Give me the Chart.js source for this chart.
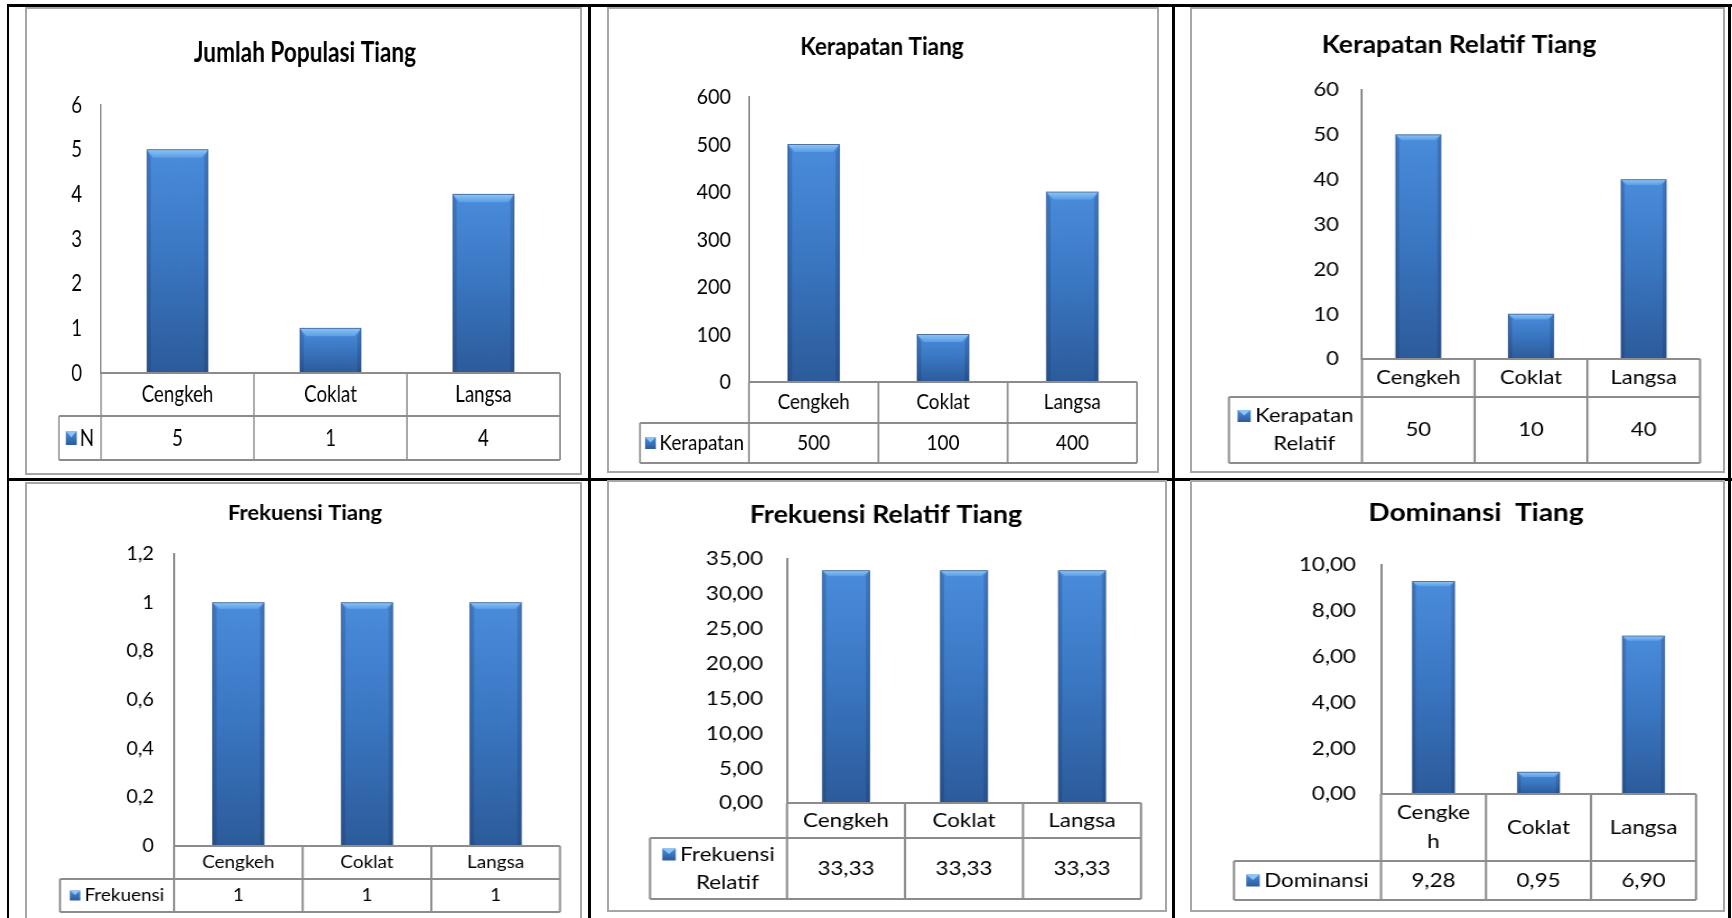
<!DOCTYPE html>
<html lang="id">
<head>
<meta charset="utf-8">
<title>Grafik Tiang</title>
<script src="https://cdn.jsdelivr.net/npm/chart.js@4.4.1/dist/chart.umd.min.js"></script>
<style>
    html, body { margin: 0; padding: 0; background: #fff; }
    body { position: relative; width: 1732px; height: 918px; overflow: hidden; }
    .garis { position: absolute; background: #000; }
    .bingkai { position: absolute; border: 2px solid #a6a6a6; box-sizing: border-box; }
    canvas { position: absolute; transform-origin: 0 0; }
</style>
</head>
<body>
<div class="garis" style="left:7px;top:4px;width:1725px;height:3px"></div>
<div class="garis" style="left:7px;top:4px;width:2px;height:914px"></div>
<div class="garis" style="left:588px;top:4px;width:3px;height:914px"></div>
<div class="garis" style="left:1172px;top:4px;width:3px;height:914px"></div>
<div class="garis" style="left:1728px;top:4px;width:3px;height:914px"></div>
<div class="garis" style="left:7px;top:478px;width:1725px;height:3px"></div>
<script>
// data
const kategori = ['Cengkeh', 'Coklat', 'Langsa'];
const kategoriDominansi = [['Cengke', 'h'], 'Coklat', 'Langsa'];

const jumlahPopulasi = [5, 1, 4];
const kerapatan = [500, 100, 400];
const kerapatanRelatif = [50, 10, 40];
const frekuensi = [1, 1, 1];
const frekuensiRelatif = [33.33, 33.33, 33.33];
const dominansi = [9.28, 0.95, 6.90];

// tick sumbu Y
const tickPopulasi = [0, 1, 2, 3, 4, 5, 6];
const tickKerapatan = [0, 100, 200, 300, 400, 500, 600];
const tickKerapatanRelatif = [0, 10, 20, 30, 40, 50, 60];
const tickFrekuensi = [0, 0.2, 0.4, 0.6, 0.8, 1, 1.2];
const tickFrekuensiRelatif = [0, 5, 10, 15, 20, 25, 30, 35];
const tickDominansi = [0, 2, 4, 6, 8, 10];

function angkaUmum(v) {
    return String(Math.round(v * 100) / 100).replace('.', ',');
}
function angka2(v) {
    return v.toFixed(2).replace('.', ',');
}

function warnaBatang(c) {
    const chart = c.chart, a = chart.chartArea;
    if (!a || c.raw == null) return '#3b78c4';
    const yAtas = chart.scales.y.getPixelForValue(c.raw);
    const g = chart.ctx.createLinearGradient(0, yAtas, 0, a.bottom);
    g.addColorStop(0, '#4a8cdb');
    g.addColorStop(0.45, '#3b78c4');
    g.addColorStop(1, '#2c5b9a');
    return g;
}

// efek bevel di batang
const bevel = {
    id: 'bevel',
    afterDatasetsDraw(chart) {
        const ctx = chart.ctx;
        chart.getDatasetMeta(0).data.forEach(function (el) {
            const p = el.getProps(['x', 'y', 'width', 'base'], true);
            const l = p.x - p.width / 2, r = p.x + p.width / 2;
            const b = Math.min(8, p.width * 0.13, (p.base - p.y) / 2);
            ctx.save();
            let g = ctx.createLinearGradient(0, p.y, 0, p.y + b);
            g.addColorStop(0, '#8cc4f5');
            g.addColorStop(1, '#5a9ee6');
            ctx.fillStyle = g;
            ctx.beginPath();
            ctx.moveTo(l, p.y); ctx.lineTo(r, p.y); ctx.lineTo(r - b, p.y + b); ctx.lineTo(l + b, p.y + b);
            ctx.closePath(); ctx.fill();
            ctx.fillStyle = 'rgba(20,45,90,0.22)';
            ctx.beginPath();
            ctx.moveTo(l, p.y); ctx.lineTo(l + b * 0.6, p.y + b); ctx.lineTo(l + b * 0.6, p.base); ctx.lineTo(l, p.base);
            ctx.closePath(); ctx.fill();
            ctx.beginPath();
            ctx.moveTo(r, p.y); ctx.lineTo(r - b * 0.6, p.y + b); ctx.lineTo(r - b * 0.6, p.base); ctx.lineTo(r, p.base);
            ctx.closePath(); ctx.fill();
            ctx.strokeStyle = 'rgba(30,60,110,0.6)';
            ctx.lineWidth = 1;
            ctx.strokeRect(l, p.y, p.width, p.base - p.y);
            ctx.restore();
        });
    }
};

function gambarPenanda(ctx, x, y, m) {
    const g = ctx.createLinearGradient(0, y, 0, y + m);
    g.addColorStop(0, '#4a8cdb');
    g.addColorStop(1, '#2c5b9a');
    ctx.fillStyle = g;
    ctx.fillRect(x, y, m, m);
    ctx.fillStyle = '#8cc4f5';
    ctx.beginPath();
    ctx.moveTo(x, y); ctx.lineTo(x + m, y); ctx.lineTo(x + m / 2, y + m * 0.45);
    ctx.closePath(); ctx.fill();
}

// judul + tabel data di bawah grafik
const tabelData = {
    id: 'tabelData',
    afterDraw(chart, args, o) {
        const ctx = chart.ctx, a = chart.chartArea;
        const n = chart.data.labels.length;
        const kol = (a.right - a.left) / n;
        const y0 = a.bottom, y1 = o.baris1, y2 = o.baris2;
        ctx.save();
        ctx.fillStyle = '#000';
        ctx.textAlign = 'center';
        ctx.textBaseline = 'middle';
        ctx.font = 'bold ' + o.fJudul + 'px Lato';
        ctx.fillText(o.judul, o.judulX, o.judulY);

        ctx.strokeStyle = '#8c8c8c';
        ctx.lineWidth = 2;
        ctx.beginPath();
        ctx.moveTo(a.left, y0); ctx.lineTo(a.right, y0);
        ctx.moveTo(o.legKiri, y1); ctx.lineTo(a.right, y1);
        ctx.moveTo(o.legKiri, y2); ctx.lineTo(a.right, y2);
        for (let i = 0; i <= n; i++) {
            const xx = a.left + i * kol;
            ctx.moveTo(xx, y0); ctx.lineTo(xx, y2);
        }
        ctx.moveTo(o.legKiri, y1); ctx.lineTo(o.legKiri, y2);
        ctx.stroke();

        ctx.font = o.fTabel + 'px Lato';
        const tinggi = o.fTabel * 1.45;
        chart.data.labels.forEach(function (lab, i) {
            const cx = chart.scales.x.getPixelForValue(i);
            const baris = [].concat(lab);
            baris.forEach(function (t, j) {
                ctx.fillText(t, cx, (y0 + y1) / 2 + (j - (baris.length - 1) / 2) * tinggi);
            });
            ctx.fillText(o.format(chart.data.datasets[0].data[i]), cx, (y1 + y2) / 2);
        });

        // legenda
        const baris = o.legenda;
        const m = Math.round(o.fTabel * 0.58);
        const w0 = ctx.measureText(baris[0]).width;
        const jarak = 4;
        const xMulai = (o.legKiri + a.left) / 2 - (m + jarak + w0) / 2;
        baris.forEach(function (t, j) {
            const yy = (y1 + y2) / 2 + (j - (baris.length - 1) / 2) * o.fTabel * 1.4;
            if (j === 0) {
                gambarPenanda(ctx, xMulai, yy - m / 2, m);
                ctx.fillStyle = '#000';
                ctx.textAlign = 'left';
                ctx.fillText(t, xMulai + m + jarak, yy);
            } else {
                ctx.textAlign = 'center';
                ctx.fillText(t, xMulai + m + jarak + w0 / 2, yy);
            }
        });
        ctx.restore();
    }
};

const panel = [
    { x: 25, y: 7, w: 557, h: 468, sx: 0.78, judul: 'Jumlah Populasi Tiang', fJudul: 29, judulX: 280, judulY: 46,
      sumbu: 76, pad: 19, atas: 98, nol: 366, baris1: 409, baris2: 453, legKiri: 34, kanan: 535, fTick: 24, fTabel: 24,
      kategori: kategori, nilai: jumlahPopulasi, tick: tickPopulasi, seri: 'N', legenda: ['N'], fmtTick: angkaUmum, fmt: angkaUmum },
    { x: 607, y: 7, w: 552, h: 466, sx: 0.9, judul: 'Kerapatan Tiang', fJudul: 25, judulX: 275, judulY: 40,
      sumbu: 142, pad: 18, atas: 90, nol: 375, baris1: 416, baris2: 456, legKiri: 33, kanan: 530, fTick: 22, fTabel: 21,
      kategori: kategori, nilai: kerapatan, tick: tickKerapatan, seri: 'Kerapatan', legenda: ['Kerapatan'], fmtTick: angkaUmum, fmt: angkaUmum },
    { x: 1190, y: 7, w: 535, h: 466, sx: 1.1, judul: 'Kerapatan Relatif Tiang', fJudul: 24, judulX: 269, judulY: 38,
      sumbu: 172, pad: 23, atas: 83, nol: 352, baris1: 390, baris2: 456, legKiri: 39, kanan: 510, fTick: 20, fTabel: 20,
      kategori: kategori, nilai: kerapatanRelatif, tick: tickKerapatanRelatif, seri: 'Kerapatan Relatif', legenda: ['Kerapatan', 'Relatif'], fmtTick: angkaUmum, fmt: angkaUmum },
    { x: 25, y: 482, w: 557, h: 436, sx: 1.05, judul: 'Frekuensi Tiang', fJudul: 21, judulX: 280, judulY: 31,
      sumbu: 149, pad: 20, atas: 72, nol: 364, baris1: 397, baris2: 430, legKiri: 35, kanan: 535, fTick: 19, fTabel: 18,
      kategori: kategori, nilai: frekuensi, tick: tickFrekuensi, seri: 'Frekuensi', legenda: ['Frekuensi'], fmtTick: angkaUmum, fmt: angkaUmum },
    { x: 607, y: 480, w: 560, h: 432, sx: 1.12, judul: 'Frekuensi Relatif Tiang', fJudul: 24, judulX: 279, judulY: 35,
      sumbu: 180, pad: 24, atas: 79, nol: 323, baris1: 358, baris2: 419, legKiri: 43, kanan: 534, fTick: 20, fTabel: 20,
      kategori: kategori, nilai: frekuensiRelatif, tick: tickFrekuensiRelatif, seri: 'Frekuensi Relatif', legenda: ['Frekuensi', 'Relatif'], fmtTick: angka2, fmt: angka2 },
    { x: 1190, y: 480, w: 535, h: 432, sx: 1.12, judul: 'Dominansi  Tiang', fJudul: 25, judulX: 286, judulY: 33,
      sumbu: 191, pad: 25, atas: 85, nol: 314, baris1: 381, baris2: 420, legKiri: 44, kanan: 506, fTick: 20, fTabel: 20,
      kategori: kategoriDominansi, nilai: dominansi, tick: tickDominansi, seri: 'Dominansi', legenda: ['Dominansi'], fmtTick: angka2, fmt: angka2 }
];

function buatGrafik(p) {
    const bingkai = document.createElement('div');
    bingkai.className = 'bingkai';
    Object.assign(bingkai.style, { left: p.x + 'px', top: p.y + 'px', width: p.w + 'px', height: (p.h + (p.y + p.h >= 918 ? 20 : 0)) + 'px' });
    document.body.appendChild(bingkai);

    const lebar = Math.round(p.w / p.sx);
    const fx = v => v / p.sx;
    const kanvas = document.createElement('canvas');
    kanvas.width = lebar;
    kanvas.height = p.h;
    kanvas.style.left = p.x + 'px';
    kanvas.style.top = p.y + 'px';
    kanvas.style.transform = 'scaleX(' + p.sx + ')';
    document.body.appendChild(kanvas);

    return new Chart(kanvas.getContext('2d'), {
        type: 'bar',
        data: {
            labels: p.kategori,
            datasets: [{
                label: p.seri,
                data: p.nilai,
                backgroundColor: warnaBatang,
                borderWidth: 0,
                barPercentage: 0.4,
                categoryPercentage: 1
            }]
        },
        options: {
            responsive: false,
            animation: false,
            devicePixelRatio: 1,
            layout: { padding: { left: 0, top: p.atas, right: lebar - fx(p.kanan), bottom: p.h - p.nol } },
            plugins: {
                legend: { display: false },
                tooltip: { enabled: false },
                tabelData: {
                    judul: p.judul, fJudul: p.fJudul, judulX: fx(p.judulX), judulY: p.judulY,
                    baris1: p.baris1, baris2: p.baris2, legKiri: fx(p.legKiri),
                    fTabel: p.fTabel, legenda: p.legenda, format: p.fmt
                }
            },
            scales: {
                x: { display: false, offset: true },
                y: {
                    min: p.tick[0],
                    max: p.tick[p.tick.length - 1],
                    afterFit: function (s) { s.width = fx(p.sumbu); },
                    grid: { display: false, drawTicks: false },
                    border: { display: true, color: '#8c8c8c', width: 2 },
                    ticks: {
                        stepSize: p.tick[1] - p.tick[0],
                        padding: fx(p.pad),
                        color: '#000',
                        font: { family: 'Lato', size: p.fTick },
                        callback: function (v) { return p.fmtTick(v); }
                    }
                }
            }
        },
        plugins: [tabelData, bevel]
    });
}

panel.forEach(buatGrafik);
</script>
</body>
</html>
